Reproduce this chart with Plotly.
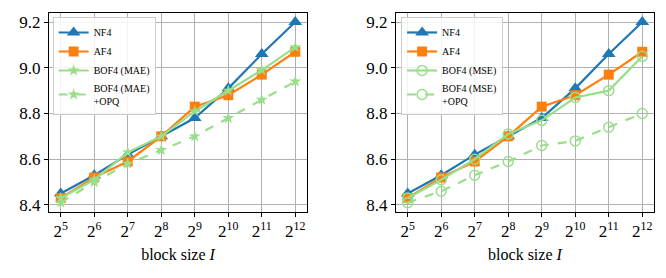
import plotly.graph_objects as go
from plotly.subplots import make_subplots

exponents = [5, 6, 7, 8, 9, 10, 11, 12]
tick_labels = ["2<sup>%d</sup>" % e for e in exponents]

nf4 = [8.45, 8.53, 8.62, 8.70, 8.78, 8.91, 9.06, 9.20]
af4 = [8.43, 8.52, 8.59, 8.70, 8.83, 8.88, 8.97, 9.07]
bof4_mae = [8.43, 8.51, 8.63, 8.70, 8.81, 8.90, 8.99, 9.09]
bof4_mae_opq = [8.41, 8.50, 8.58, 8.64, 8.70, 8.78, 8.86, 8.94]
bof4_mse = [8.43, 8.51, 8.60, 8.71, 8.77, 8.87, 8.90, 9.05]
bof4_mse_opq = [8.41, 8.46, 8.53, 8.59, 8.66, 8.68, 8.74, 8.80]

y_ticks = [8.4, 8.6, 8.8, 9.0, 9.2]

BLUE = "#1f77b4"
ORANGE = "#ff7f0e"
GREEN = "#98df8a"
FONT = "Liberation Serif"

fig = make_subplots(rows=1, cols=2, horizontal_spacing=0.147)


def add(col, y, name, color, symbol, size, dash="solid", legend="legend", open_marker=False):
    marker = dict(symbol=symbol, size=size, color=color)
    if open_marker:
        marker = dict(symbol=symbol, size=size, color=color, line=dict(color=color, width=1.5))
    fig.add_trace(
        go.Scatter(
            x=exponents, y=y, name=name, mode="lines+markers",
            line=dict(color=color, width=2.2, dash=dash),
            marker=marker, legend=legend,
        ),
        row=1, col=col,
    )


add(1, nf4, "NF4", BLUE, "triangle-up", 12)
add(1, af4, "AF4", ORANGE, "square", 10)
add(1, bof4_mae, "BOF4 (MAE)", GREEN, "star", 9)
add(1, bof4_mae_opq, "BOF4 (MAE)<br>+OPQ", GREEN, "star", 9, dash="dash")

add(2, nf4, "NF4", BLUE, "triangle-up", 12, legend="legend2")
add(2, af4, "AF4", ORANGE, "square", 10, legend="legend2")
add(2, bof4_mse, "BOF4 (MSE)", GREEN, "circle-open", 10, legend="legend2", open_marker=True)
add(2, bof4_mse_opq, "BOF4 (MSE)<br>+OPQ", GREEN, "circle-open", 10, dash="dash",
    legend="legend2", open_marker=True)

axis_common = dict(
    showline=True, linecolor="black", linewidth=1, mirror=True,
    showgrid=True, gridcolor="#b0b0b0", gridwidth=1,
    ticks="outside", ticklen=4, tickcolor="black",
    tickfont=dict(family=FONT, size=17, color="black"),
    zeroline=False, automargin=False,
)

for c in (1, 2):
    fig.update_xaxes(
        range=[4.65, 12.35], tickvals=exponents, ticktext=tick_labels,
        title=dict(text="block size <i>I</i>", font=dict(family=FONT, size=16, color="black"),
                   standoff=8),
        row=1, col=c, **axis_common,
    )
    fig.update_yaxes(
        range=[8.369, 9.2396], tickvals=y_ticks, ticktext=["%.1f" % v for v in y_ticks],
        row=1, col=c, **axis_common,
    )

legend_common = dict(
    bgcolor="rgba(255,255,255,0.85)", bordercolor="#cccccc", borderwidth=1,
    font=dict(family=FONT, size=10, color="black"),
    xanchor="left", yanchor="top", tracegroupgap=0, itemwidth=30,
)

# the page body has an 8px default margin, so the figure is 8px smaller on each side
fig.update_layout(
    width=658, height=270,
    margin=dict(l=41, r=12, t=5, b=65.5),
    paper_bgcolor="white", plot_bgcolor="white",
    legend=dict(x=0.006, y=0.98, **legend_common),
    legend2=dict(x=0.582, y=0.98, **legend_common),
)

fig.write_html("out.html")
